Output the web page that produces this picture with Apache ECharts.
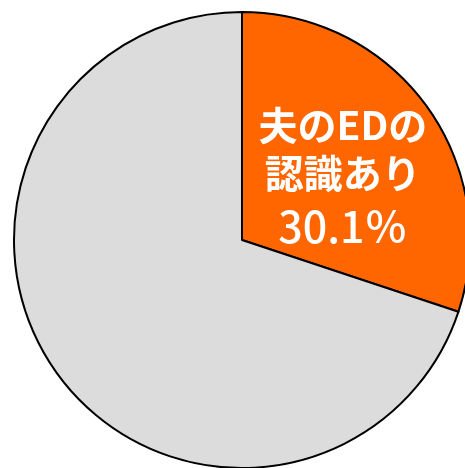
<!DOCTYPE html>
<html lang="ja">
<head>
<meta charset="utf-8">
<title>夫のEDの認識</title>
<style>
  html, body { margin: 0; padding: 0; background: #fff; }
  #chart { width: 465px; height: 468px; }
</style>
</head>
<body>
<div id="chart"></div>
<script src="https://cdn.jsdelivr.net/npm/echarts@6/dist/echarts.min.js"></script>
<script>
var categories = ['夫のEDの認識あり', '認識なし'];
var values = [30.1, 69.9];
var colors = ['#ff6600', '#dcdcdc'];

var myChart = echarts.init(document.getElementById('chart'));

var pieData = categories.map(function (name, i) {
  var item = { name: name, value: values[i], itemStyle: { color: colors[i] } };
  if (i === 0) {
    item.label = {
      show: true,
      position: 'inside',
      padding: [14, 0, 0, 12],
      formatter: '{a|夫のEDの}\n{a|認識あり}\n{b|' + values[i].toFixed(1) + '％}',
      rich: {
        a: { color: '#fff', fontSize: 39, fontWeight: 'bold', lineHeight: 48, fontFamily: 'Noto Sans CJK JP' },
        b: { color: '#fff', fontSize: 43, fontWeight: 500, lineHeight: 58, fontFamily: 'Noto Sans CJK JP' }
      }
    };
  }
  return item;
});

myChart.setOption({
  animation: false,
  series: [{
    type: 'pie',
    center: [242, 240],
    radius: 228,
    startAngle: 90,
    clockwise: true,
    silent: true,
    itemStyle: { borderColor: '#000', borderWidth: 2 },
    label: { show: false },
    labelLine: { show: false },
    data: pieData
  }]
});
</script>
</body>
</html>
